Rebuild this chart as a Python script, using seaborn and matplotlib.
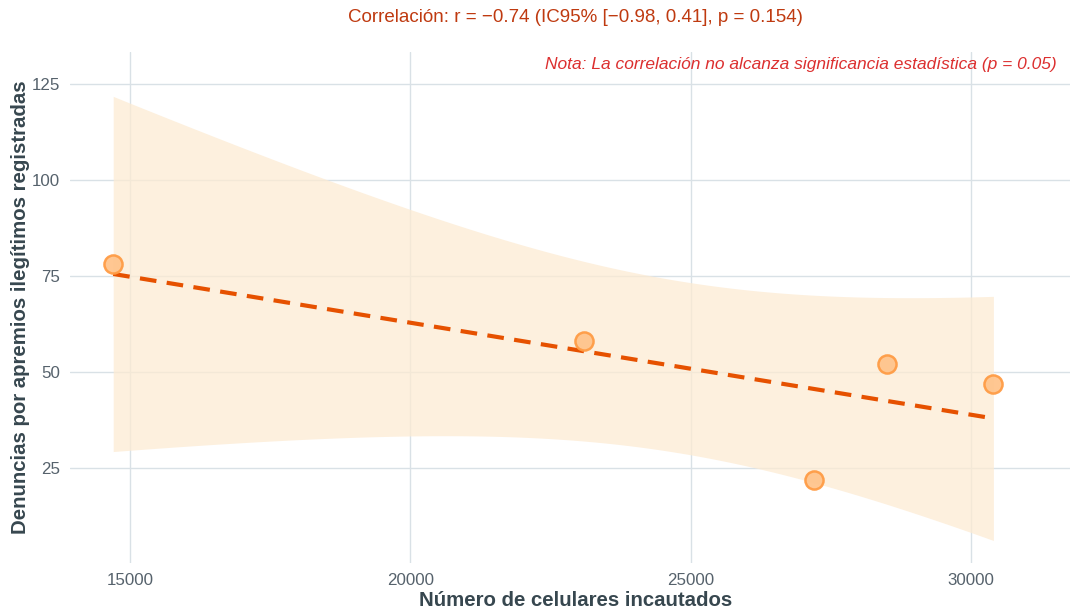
import numpy as np
import pandas as pd
import matplotlib
matplotlib.use('Agg')
import matplotlib.pyplot as plt
import seaborn as sns

# Data
celulares = [14700, 23100, 27200, 28500, 30400]
denuncias = [78, 58, 22, 52, 47]
x_ticks = [15000, 20000, 25000, 30000]
y_ticks = [25, 50, 75, 100, 125]
titulo = 'Correlación: r = \u22120.74 (IC95% [\u22120.98, 0.41], p = 0.154)'
nota = 'Nota: La correlación no alcanza significancia estadística (p = 0.05)'

df = pd.DataFrame({'x': celulares, 'y': denuncias})

sns.set_theme(style='white')
plt.rcParams['font.family'] = ['Liberation Sans', 'DejaVu Sans']

# Linear fit with analytic 95% confidence band
x = np.array(celulares, dtype=float)
y = np.array(denuncias, dtype=float)
n = len(x)
slope, intercept = np.polyfit(x, y, 1)
resid = y - (slope * x + intercept)
s = np.sqrt(np.sum(resid ** 2) / (n - 2))
sxx = np.sum((x - x.mean()) ** 2)
t_crit = 3.182  # t(0.975, df=3)
xs = np.linspace(x.min(), x.max(), 200)
ys = slope * xs + intercept
se = s * np.sqrt(1 / n + (xs - x.mean()) ** 2 / sxx)
lower = ys - t_crit * se
upper = ys + t_crit * se

fig = plt.figure(figsize=(10.71, 6.12), dpi=100)
ax = fig.add_axes([0.0654, 0.080, 0.9336, 0.835])

ax.fill_between(xs, lower, upper, color='#fdebd3', alpha=0.75, linewidth=0, zorder=1)
sns.lineplot(x=xs, y=ys, ax=ax, color='#e65100', linewidth=3, linestyle=(0, (4, 2.5)), zorder=3)
sns.scatterplot(data=df, x='x', y='y', ax=ax, s=170, color='#ffc48c',
                edgecolor='#ff9c45', linewidth=1.8, alpha=0.95, zorder=4)

ax.set_xlim(13930, 31765)
ax.set_ylim(0.3, 133.3)
ax.set_xticks(x_ticks)
ax.set_yticks(y_ticks)
ax.grid(True, color='#d9e1e6', linewidth=1)
ax.set_axisbelow(True)
for sp in ax.spines.values():
    sp.set_visible(False)
ax.tick_params(axis='both', length=0, labelsize=12.2, labelcolor='#56626c', pad=7)

ax.set_xlabel('Número de celulares incautados', fontsize=14.7, fontweight='bold',
              color='#37474f', labelpad=2)
ax.xaxis.label.set_x(0.506)
ax.set_ylabel('Denuncias por apremios ilegítimos registradas', fontsize=14.7,
              fontweight='bold', color='#37474f', labelpad=1.5)

fig.text(0.537, 0.971, titulo, ha='center', va='center', fontsize=13.5, color='#bf3a10')
ax.text(0.987, 0.975, nota, transform=ax.transAxes, ha='right', va='center',
        fontsize=12.5, style='italic', color='#dc2f2f')

fig.savefig('out.png', dpi=100)
